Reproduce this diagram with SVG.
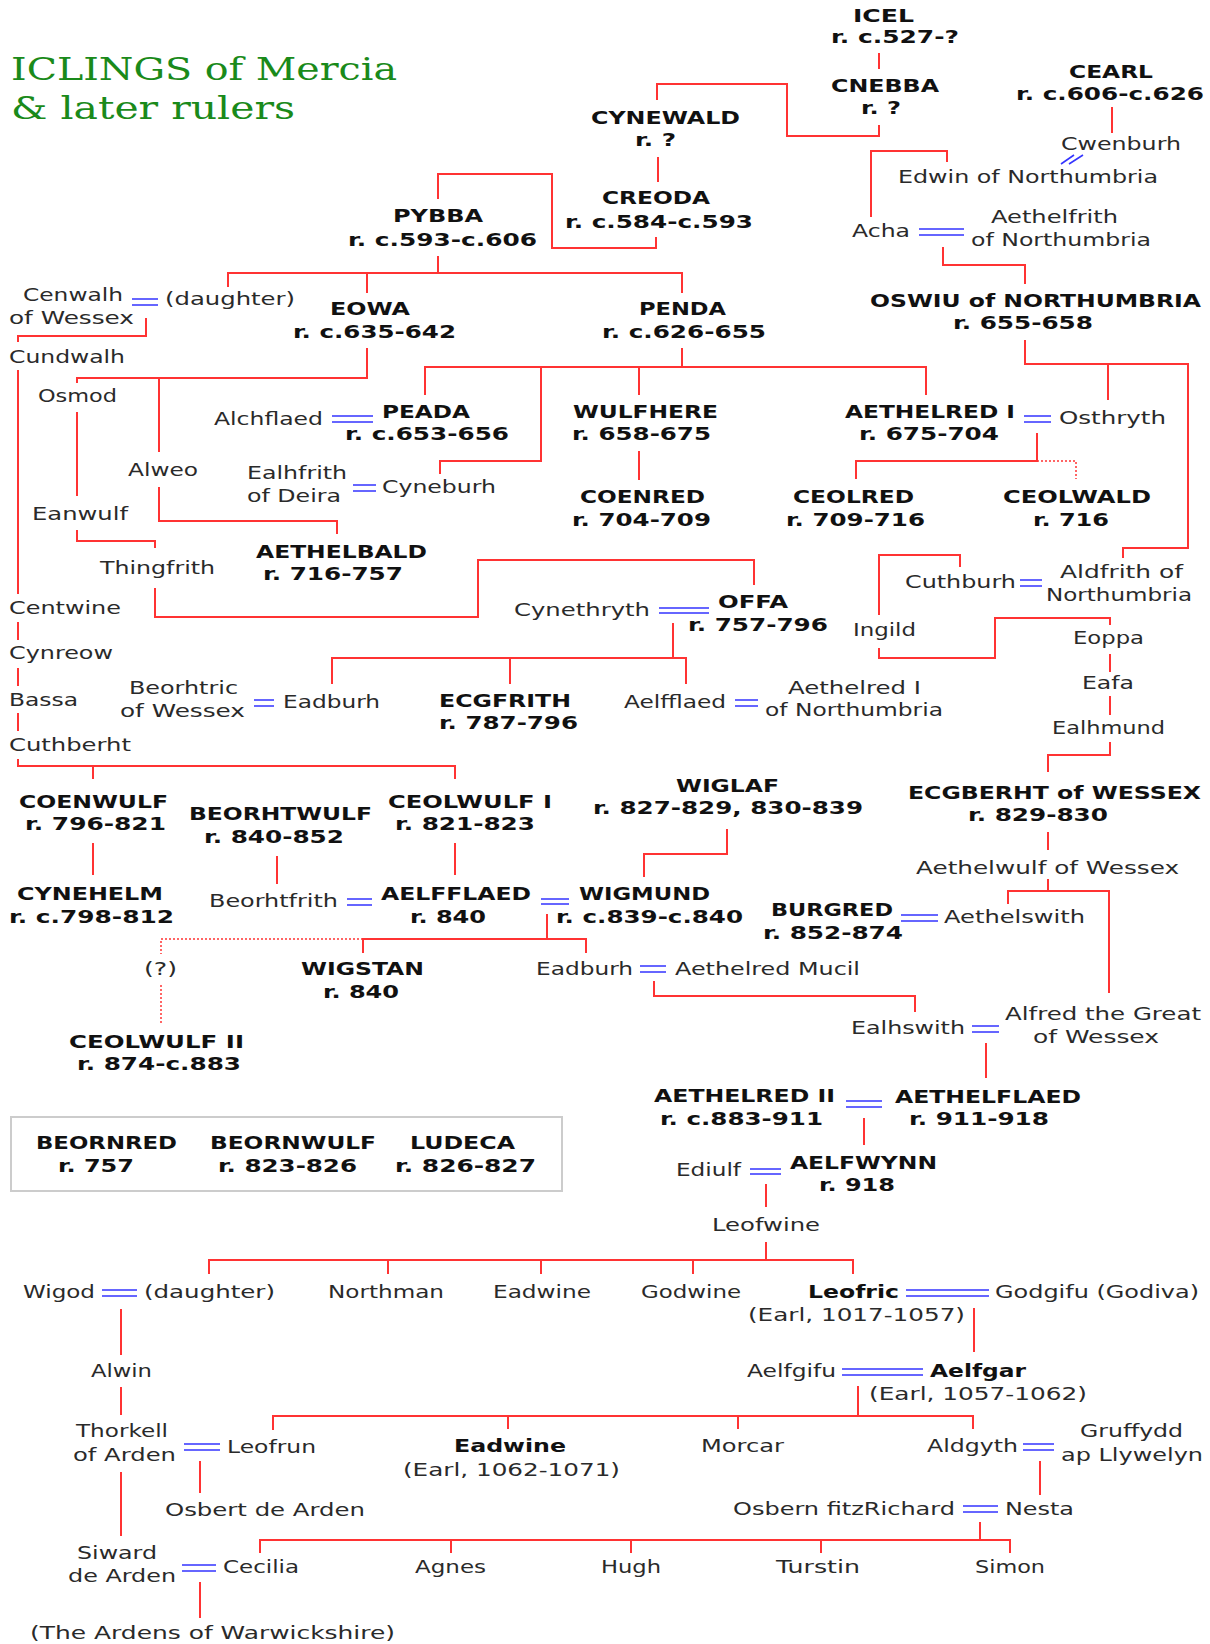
<svg xmlns="http://www.w3.org/2000/svg" width="1210" height="1644" viewBox="0 0 1210 1644">
<style>
text{font-family:"DejaVu Sans","Liberation Sans",sans-serif;font-size:17px}
.n{fill:#2a2a2a}
.b{fill:#111;font-weight:bold}
.t{font-family:"DejaVu Serif","Liberation Serif",serif;font-size:31px;fill:#1a8a1a}
.r{fill:none;stroke:#ff3333;stroke-width:2}
.d{fill:none;stroke:#ff3333;stroke-width:1.5;stroke-dasharray:2 2}
.m{fill:none;stroke:#3535ff;stroke-width:1.6}
.box{fill:none;stroke:#cccccc;stroke-width:2}
</style>
<rect width="1210" height="1644" fill="#fff"/>
<g id="title">
<text class="t" x="11" y="80" textLength="386" lengthAdjust="spacingAndGlyphs">ICLINGS of Mercia</text>
<text class="t" x="11" y="119" textLength="284" lengthAdjust="spacingAndGlyphs">&amp; later rulers</text>
</g>
<g id="connectors">
<path class="r" d="M879,53V69M879,125V136H787V84H657V100M658,157V182M656,237V248H552V174H438V199M438,256V273M228,287V273H682V293M367,273V293M146,318V336H18V342M18,370V594M18,622V640M18,668V686M18,713V731M367,348V378H77V383M159,378V452M77,412V496M77,530V541H155V548M155,588V617H478V560H754V585M159,487V521H337V534M682,348V367M425,395V367H926V395M639,367V395M541,367V461H440V474M639,451V480M1037,433V461H856V479M947,162V151H871V217M1112,107V133M943,247V265H1025V284M1025,340V364H1188V548H1123V558M1108,364V400M960,567V555H879V615M879,648V658H995V618H1110V625M1110,654V672M1110,696V715M1110,742V755H1048V772M1048,832V850M1048,879V891M1008,904V891H1109V993M673,623V658M332,684V658H686V684M510,658V684M18,759V766H455V779M93,766V779M93,843V875M277,856V884M455,843V875M727,829V854H644V877M547,914V939M363,953V939H586V953M654,981V996H915V1012M986,1043V1078M864,1118V1145M766,1184V1207M766,1242V1260M209,1274V1260H853V1274M388,1260V1274M541,1260V1274M693,1260V1274M121,1309V1355M121,1387V1415M121,1472V1536M200,1461V1493M974,1308V1352M858,1386V1416M273,1430V1416H973V1429M508,1416V1429M738,1416V1429M1040,1461V1495M980,1522V1540M260,1553V1540H1010V1553M451,1540V1553M631,1540V1553M821,1540V1553M200,1582V1618"/>
<path class="d" d="M1037,461H1076V479M363,939H161V954M161,985V1025"/>
<path class="m" d="M132,299H158M132,305H158M919,229H964M919,235H964M332,416H373M332,422H373M353,485H376M353,491H376M1024,416H1051M1024,422H1051M1020,580H1042M1020,586H1042M659,608H709M659,613H709M254,700H274M254,706H274M735,700H758M735,706H758M347,899H372M347,905H372M541,899H569M541,904H569M901,915H938M901,921H938M640,966H666M640,972H666M972,1026H999M972,1032H999M846,1101H882M846,1107H882M750,1169H781M750,1174H781M102,1290H137M102,1296H137M906,1290H989M906,1296H989M842,1369H923M842,1375H923M184,1444H220M184,1450H220M1023,1444H1054M1023,1450H1054M963,1506H998M963,1512H998M182,1565H216M182,1571H216M1061,164L1074,155M1069,164L1083,155"/>
</g>
<g id="n-icel"><text class="b" x="853" y="22" textLength="61" lengthAdjust="spacingAndGlyphs">ICEL</text><text class="b" x="831" y="43" textLength="128" lengthAdjust="spacingAndGlyphs">r. c.527-?</text></g>
<g id="n-cnebba"><text class="b" x="831" y="92" textLength="108" lengthAdjust="spacingAndGlyphs">CNEBBA</text><text class="b" x="861" y="114" textLength="40" lengthAdjust="spacingAndGlyphs">r. ?</text></g>
<g id="n-cynewald"><text class="b" x="591" y="124" textLength="149" lengthAdjust="spacingAndGlyphs">CYNEWALD</text><text class="b" x="635" y="146" textLength="41" lengthAdjust="spacingAndGlyphs">r. ?</text></g>
<g id="n-cearl"><text class="b" x="1069" y="78" textLength="84" lengthAdjust="spacingAndGlyphs">CEARL</text><text class="b" x="1016" y="100" textLength="188" lengthAdjust="spacingAndGlyphs">r. c.606-c.626</text></g>
<g id="n-cwenburh"><text class="n" x="1061" y="150" textLength="120" lengthAdjust="spacingAndGlyphs">Cwenburh</text></g>
<g id="n-edwin"><text class="n" x="898" y="183" textLength="260" lengthAdjust="spacingAndGlyphs">Edwin of Northumbria</text></g>
<g id="n-creoda"><text class="b" x="602" y="204" textLength="108" lengthAdjust="spacingAndGlyphs">CREODA</text><text class="b" x="565" y="228" textLength="188" lengthAdjust="spacingAndGlyphs">r. c.584-c.593</text></g>
<g id="n-pybba"><text class="b" x="393" y="222" textLength="90" lengthAdjust="spacingAndGlyphs">PYBBA</text><text class="b" x="348" y="246" textLength="189" lengthAdjust="spacingAndGlyphs">r. c.593-c.606</text></g>
<g id="n-acha"><text class="n" x="852" y="237" textLength="58" lengthAdjust="spacingAndGlyphs">Acha</text></g>
<g id="n-aethelfrith"><text class="n" x="991" y="223" textLength="127" lengthAdjust="spacingAndGlyphs">Aethelfrith</text><text class="n" x="971" y="246" textLength="180" lengthAdjust="spacingAndGlyphs">of Northumbria</text></g>
<g id="n-cenwalh"><text class="n" x="23" y="301" textLength="100" lengthAdjust="spacingAndGlyphs">Cenwalh</text><text class="n" x="9" y="324" textLength="125" lengthAdjust="spacingAndGlyphs">of Wessex</text></g>
<g id="n-daughter1"><text class="n" x="165" y="305" textLength="130" lengthAdjust="spacingAndGlyphs">(daughter)</text></g>
<g id="n-eowa"><text class="b" x="330" y="315" textLength="80" lengthAdjust="spacingAndGlyphs">EOWA</text><text class="b" x="293" y="338" textLength="163" lengthAdjust="spacingAndGlyphs">r. c.635-642</text></g>
<g id="n-penda"><text class="b" x="639" y="315" textLength="87" lengthAdjust="spacingAndGlyphs">PENDA</text><text class="b" x="602" y="338" textLength="164" lengthAdjust="spacingAndGlyphs">r. c.626-655</text></g>
<g id="n-oswiu"><text class="b" x="870" y="307" textLength="331" lengthAdjust="spacingAndGlyphs">OSWIU of NORTHUMBRIA</text><text class="b" x="953" y="329" textLength="140" lengthAdjust="spacingAndGlyphs">r. 655-658</text></g>
<g id="n-cundwalh"><text class="n" x="9" y="363" textLength="116" lengthAdjust="spacingAndGlyphs">Cundwalh</text></g>
<g id="n-osmod"><text class="n" x="38" y="402" textLength="79" lengthAdjust="spacingAndGlyphs">Osmod</text></g>
<g id="n-alchflaed"><text class="n" x="214" y="425" textLength="109" lengthAdjust="spacingAndGlyphs">Alchflaed</text></g>
<g id="n-peada"><text class="b" x="382" y="418" textLength="88" lengthAdjust="spacingAndGlyphs">PEADA</text><text class="b" x="345" y="440" textLength="164" lengthAdjust="spacingAndGlyphs">r. c.653-656</text></g>
<g id="n-wulfhere"><text class="b" x="573" y="418" textLength="145" lengthAdjust="spacingAndGlyphs">WULFHERE</text><text class="b" x="572" y="440" textLength="139" lengthAdjust="spacingAndGlyphs">r. 658-675</text></g>
<g id="n-aethelred1"><text class="b" x="845" y="418" textLength="170" lengthAdjust="spacingAndGlyphs">AETHELRED I</text><text class="b" x="859" y="440" textLength="140" lengthAdjust="spacingAndGlyphs">r. 675-704</text></g>
<g id="n-osthryth"><text class="n" x="1059" y="424" textLength="107" lengthAdjust="spacingAndGlyphs">Osthryth</text></g>
<g id="n-alweo"><text class="n" x="128" y="476" textLength="70" lengthAdjust="spacingAndGlyphs">Alweo</text></g>
<g id="n-ealhfrith"><text class="n" x="247" y="479" textLength="100" lengthAdjust="spacingAndGlyphs">Ealhfrith</text><text class="n" x="247" y="502" textLength="94" lengthAdjust="spacingAndGlyphs">of Deira</text></g>
<g id="n-cyneburh"><text class="n" x="382" y="493" textLength="114" lengthAdjust="spacingAndGlyphs">Cyneburh</text></g>
<g id="n-coenred"><text class="b" x="580" y="503" textLength="125" lengthAdjust="spacingAndGlyphs">COENRED</text><text class="b" x="572" y="526" textLength="139" lengthAdjust="spacingAndGlyphs">r. 704-709</text></g>
<g id="n-ceolred"><text class="b" x="793" y="503" textLength="121" lengthAdjust="spacingAndGlyphs">CEOLRED</text><text class="b" x="786" y="526" textLength="139" lengthAdjust="spacingAndGlyphs">r. 709-716</text></g>
<g id="n-ceolwald"><text class="b" x="1003" y="503" textLength="148" lengthAdjust="spacingAndGlyphs">CEOLWALD</text><text class="b" x="1033" y="526" textLength="76" lengthAdjust="spacingAndGlyphs">r. 716</text></g>
<g id="n-eanwulf"><text class="n" x="32" y="520" textLength="96" lengthAdjust="spacingAndGlyphs">Eanwulf</text></g>
<g id="n-aethelbald"><text class="b" x="256" y="558" textLength="171" lengthAdjust="spacingAndGlyphs">AETHELBALD</text><text class="b" x="263" y="580" textLength="140" lengthAdjust="spacingAndGlyphs">r. 716-757</text></g>
<g id="n-thingfrith"><text class="n" x="100" y="574" textLength="115" lengthAdjust="spacingAndGlyphs">Thingfrith</text></g>
<g id="n-cuthburh"><text class="n" x="905" y="588" textLength="111" lengthAdjust="spacingAndGlyphs">Cuthburh</text></g>
<g id="n-aldfrith"><text class="n" x="1060" y="578" textLength="123" lengthAdjust="spacingAndGlyphs">Aldfrith of</text><text class="n" x="1046" y="601" textLength="146" lengthAdjust="spacingAndGlyphs">Northumbria</text></g>
<g id="n-centwine"><text class="n" x="9" y="614" textLength="112" lengthAdjust="spacingAndGlyphs">Centwine</text></g>
<g id="n-cynethryth"><text class="n" x="514" y="616" textLength="136" lengthAdjust="spacingAndGlyphs">Cynethryth</text></g>
<g id="n-offa"><text class="b" x="718" y="608" textLength="70" lengthAdjust="spacingAndGlyphs">OFFA</text><text class="b" x="688" y="631" textLength="140" lengthAdjust="spacingAndGlyphs">r. 757-796</text></g>
<g id="n-ingild"><text class="n" x="853" y="636" textLength="63" lengthAdjust="spacingAndGlyphs">Ingild</text></g>
<g id="n-eoppa"><text class="n" x="1073" y="644" textLength="71" lengthAdjust="spacingAndGlyphs">Eoppa</text></g>
<g id="n-cynreow"><text class="n" x="9" y="659" textLength="104" lengthAdjust="spacingAndGlyphs">Cynreow</text></g>
<g id="n-eafa"><text class="n" x="1082" y="689" textLength="52" lengthAdjust="spacingAndGlyphs">Eafa</text></g>
<g id="n-beorhtric"><text class="n" x="129" y="694" textLength="109" lengthAdjust="spacingAndGlyphs">Beorhtric</text><text class="n" x="120" y="717" textLength="125" lengthAdjust="spacingAndGlyphs">of Wessex</text></g>
<g id="n-eadburh1"><text class="n" x="283" y="708" textLength="97" lengthAdjust="spacingAndGlyphs">Eadburh</text></g>
<g id="n-bassa"><text class="n" x="9" y="706" textLength="69" lengthAdjust="spacingAndGlyphs">Bassa</text></g>
<g id="n-ecgfrith"><text class="b" x="439" y="707" textLength="132" lengthAdjust="spacingAndGlyphs">ECGFRITH</text><text class="b" x="439" y="729" textLength="139" lengthAdjust="spacingAndGlyphs">r. 787-796</text></g>
<g id="n-aelfflaed1"><text class="n" x="624" y="708" textLength="102" lengthAdjust="spacingAndGlyphs">Aelfflaed</text></g>
<g id="n-aethelred-north"><text class="n" x="788" y="694" textLength="133" lengthAdjust="spacingAndGlyphs">Aethelred I</text><text class="n" x="765" y="716" textLength="178" lengthAdjust="spacingAndGlyphs">of Northumbria</text></g>
<g id="n-ealhmund"><text class="n" x="1052" y="734" textLength="113" lengthAdjust="spacingAndGlyphs">Ealhmund</text></g>
<g id="n-cuthberht"><text class="n" x="9" y="751" textLength="122" lengthAdjust="spacingAndGlyphs">Cuthberht</text></g>
<g id="n-wiglaf"><text class="b" x="676" y="792" textLength="103" lengthAdjust="spacingAndGlyphs">WIGLAF</text><text class="b" x="593" y="814" textLength="270" lengthAdjust="spacingAndGlyphs">r. 827-829, 830-839</text></g>
<g id="n-ecgberht"><text class="b" x="908" y="799" textLength="293" lengthAdjust="spacingAndGlyphs">ECGBERHT of WESSEX</text><text class="b" x="968" y="821" textLength="140" lengthAdjust="spacingAndGlyphs">r. 829-830</text></g>
<g id="n-coenwulf"><text class="b" x="19" y="808" textLength="149" lengthAdjust="spacingAndGlyphs">COENWULF</text><text class="b" x="25" y="830" textLength="141" lengthAdjust="spacingAndGlyphs">r. 796-821</text></g>
<g id="n-beorhtwulf"><text class="b" x="189" y="820" textLength="183" lengthAdjust="spacingAndGlyphs">BEORHTWULF</text><text class="b" x="204" y="843" textLength="140" lengthAdjust="spacingAndGlyphs">r. 840-852</text></g>
<g id="n-ceolwulf1"><text class="b" x="388" y="808" textLength="164" lengthAdjust="spacingAndGlyphs">CEOLWULF I</text><text class="b" x="395" y="830" textLength="140" lengthAdjust="spacingAndGlyphs">r. 821-823</text></g>
<g id="n-aethelwulf"><text class="n" x="916" y="874" textLength="263" lengthAdjust="spacingAndGlyphs">Aethelwulf of Wessex</text></g>
<g id="n-cynehelm"><text class="b" x="17" y="900" textLength="146" lengthAdjust="spacingAndGlyphs">CYNEHELM</text><text class="b" x="9" y="923" textLength="165" lengthAdjust="spacingAndGlyphs">r. c.798-812</text></g>
<g id="n-beorhtfrith"><text class="n" x="209" y="907" textLength="129" lengthAdjust="spacingAndGlyphs">Beorhtfrith</text></g>
<g id="n-aelfflaed2"><text class="b" x="381" y="900" textLength="150" lengthAdjust="spacingAndGlyphs">AELFFLAED</text><text class="b" x="410" y="923" textLength="76" lengthAdjust="spacingAndGlyphs">r. 840</text></g>
<g id="n-wigmund"><text class="b" x="579" y="900" textLength="131" lengthAdjust="spacingAndGlyphs">WIGMUND</text><text class="b" x="556" y="923" textLength="187" lengthAdjust="spacingAndGlyphs">r. c.839-c.840</text></g>
<g id="n-burgred"><text class="b" x="771" y="916" textLength="122" lengthAdjust="spacingAndGlyphs">BURGRED</text><text class="b" x="763" y="939" textLength="140" lengthAdjust="spacingAndGlyphs">r. 852-874</text></g>
<g id="n-aethelswith"><text class="n" x="944" y="923" textLength="141" lengthAdjust="spacingAndGlyphs">Aethelswith</text></g>
<g id="n-unknown"><text class="n" x="144" y="975" textLength="33" lengthAdjust="spacingAndGlyphs">(?)</text></g>
<g id="n-wigstan"><text class="b" x="301" y="975" textLength="123" lengthAdjust="spacingAndGlyphs">WIGSTAN</text><text class="b" x="323" y="998" textLength="76" lengthAdjust="spacingAndGlyphs">r. 840</text></g>
<g id="n-eadburh2"><text class="n" x="536" y="975" textLength="97" lengthAdjust="spacingAndGlyphs">Eadburh</text></g>
<g id="n-mucil"><text class="n" x="675" y="975" textLength="185" lengthAdjust="spacingAndGlyphs">Aethelred Mucil</text></g>
<g id="n-alfred"><text class="n" x="1005" y="1020" textLength="196" lengthAdjust="spacingAndGlyphs">Alfred the Great</text><text class="n" x="1033" y="1043" textLength="126" lengthAdjust="spacingAndGlyphs">of Wessex</text></g>
<g id="n-ealhswith"><text class="n" x="851" y="1034" textLength="114" lengthAdjust="spacingAndGlyphs">Ealhswith</text></g>
<g id="n-ceolwulf2"><text class="b" x="69" y="1048" textLength="175" lengthAdjust="spacingAndGlyphs">CEOLWULF II</text><text class="b" x="77" y="1070" textLength="164" lengthAdjust="spacingAndGlyphs">r. 874-c.883</text></g>
<g id="n-aethelred2"><text class="b" x="654" y="1102" textLength="181" lengthAdjust="spacingAndGlyphs">AETHELRED II</text><text class="b" x="660" y="1125" textLength="163" lengthAdjust="spacingAndGlyphs">r. c.883-911</text></g>
<g id="n-aethelflaed"><text class="b" x="895" y="1103" textLength="186" lengthAdjust="spacingAndGlyphs">AETHELFLAED</text><text class="b" x="909" y="1125" textLength="140" lengthAdjust="spacingAndGlyphs">r. 911-918</text></g>
<g id="n-box">
<rect class="box" x="11" y="1117" width="551" height="74"/>
<text class="b" x="36" y="1149" textLength="141" lengthAdjust="spacingAndGlyphs">BEORNRED</text><text class="b" x="58" y="1172" textLength="76" lengthAdjust="spacingAndGlyphs">r. 757</text>
<text class="b" x="210" y="1149" textLength="166" lengthAdjust="spacingAndGlyphs">BEORNWULF</text><text class="b" x="218" y="1172" textLength="139" lengthAdjust="spacingAndGlyphs">r. 823-826</text>
<text class="b" x="410" y="1149" textLength="105" lengthAdjust="spacingAndGlyphs">LUDECA</text><text class="b" x="395" y="1172" textLength="141" lengthAdjust="spacingAndGlyphs">r. 826-827</text>
</g>
<g id="n-ediulf"><text class="n" x="676" y="1176" textLength="65" lengthAdjust="spacingAndGlyphs">Ediulf</text></g>
<g id="n-aelfwynn"><text class="b" x="790" y="1169" textLength="147" lengthAdjust="spacingAndGlyphs">AELFWYNN</text><text class="b" x="819" y="1191" textLength="76" lengthAdjust="spacingAndGlyphs">r. 918</text></g>
<g id="n-leofwine"><text class="n" x="712" y="1231" textLength="108" lengthAdjust="spacingAndGlyphs">Leofwine</text></g>
<g id="n-wigod"><text class="n" x="23" y="1298" textLength="72" lengthAdjust="spacingAndGlyphs">Wigod</text></g>
<g id="n-daughter2"><text class="n" x="144" y="1298" textLength="131" lengthAdjust="spacingAndGlyphs">(daughter)</text></g>
<g id="n-northman"><text class="n" x="328" y="1298" textLength="116" lengthAdjust="spacingAndGlyphs">Northman</text></g>
<g id="n-eadwine1"><text class="n" x="493" y="1298" textLength="98" lengthAdjust="spacingAndGlyphs">Eadwine</text></g>
<g id="n-godwine"><text class="n" x="641" y="1298" textLength="100" lengthAdjust="spacingAndGlyphs">Godwine</text></g>
<g id="n-leofric"><text class="b" x="808" y="1298" textLength="91" lengthAdjust="spacingAndGlyphs">Leofric</text><text class="n" x="748" y="1321" textLength="217" lengthAdjust="spacingAndGlyphs">(Earl, 1017-1057)</text></g>
<g id="n-godgifu"><text class="n" x="995" y="1298" textLength="204" lengthAdjust="spacingAndGlyphs">Godgifu (Godiva)</text></g>
<g id="n-alwin"><text class="n" x="91" y="1377" textLength="61" lengthAdjust="spacingAndGlyphs">Alwin</text></g>
<g id="n-aelfgifu"><text class="n" x="747" y="1377" textLength="89" lengthAdjust="spacingAndGlyphs">Aelfgifu</text></g>
<g id="n-aelfgar"><text class="b" x="930" y="1377" textLength="96" lengthAdjust="spacingAndGlyphs">Aelfgar</text><text class="n" x="869" y="1400" textLength="218" lengthAdjust="spacingAndGlyphs">(Earl, 1057-1062)</text></g>
<g id="n-thorkell"><text class="n" x="76" y="1437" textLength="92" lengthAdjust="spacingAndGlyphs">Thorkell</text><text class="n" x="73" y="1461" textLength="103" lengthAdjust="spacingAndGlyphs">of Arden</text></g>
<g id="n-leofrun"><text class="n" x="227" y="1453" textLength="89" lengthAdjust="spacingAndGlyphs">Leofrun</text></g>
<g id="n-eadwine2"><text class="b" x="454" y="1452" textLength="112" lengthAdjust="spacingAndGlyphs">Eadwine</text><text class="n" x="403" y="1476" textLength="217" lengthAdjust="spacingAndGlyphs">(Earl, 1062-1071)</text></g>
<g id="n-morcar"><text class="n" x="701" y="1452" textLength="83" lengthAdjust="spacingAndGlyphs">Morcar</text></g>
<g id="n-aldgyth"><text class="n" x="927" y="1452" textLength="91" lengthAdjust="spacingAndGlyphs">Aldgyth</text></g>
<g id="n-gruffydd"><text class="n" x="1080" y="1437" textLength="103" lengthAdjust="spacingAndGlyphs">Gruffydd</text><text class="n" x="1061" y="1461" textLength="142" lengthAdjust="spacingAndGlyphs">ap Llywelyn</text></g>
<g id="n-osbert"><text class="n" x="165" y="1516" textLength="200" lengthAdjust="spacingAndGlyphs">Osbert de Arden</text></g>
<g id="n-osbern"><text class="n" x="733" y="1515" textLength="222" lengthAdjust="spacingAndGlyphs">Osbern fitzRichard</text></g>
<g id="n-nesta"><text class="n" x="1005" y="1515" textLength="69" lengthAdjust="spacingAndGlyphs">Nesta</text></g>
<g id="n-siward"><text class="n" x="77" y="1559" textLength="80" lengthAdjust="spacingAndGlyphs">Siward</text><text class="n" x="68" y="1582" textLength="108" lengthAdjust="spacingAndGlyphs">de Arden</text></g>
<g id="n-cecilia"><text class="n" x="223" y="1573" textLength="76" lengthAdjust="spacingAndGlyphs">Cecilia</text></g>
<g id="n-agnes"><text class="n" x="415" y="1573" textLength="71" lengthAdjust="spacingAndGlyphs">Agnes</text></g>
<g id="n-hugh"><text class="n" x="601" y="1573" textLength="60" lengthAdjust="spacingAndGlyphs">Hugh</text></g>
<g id="n-turstin"><text class="n" x="776" y="1573" textLength="84" lengthAdjust="spacingAndGlyphs">Turstin</text></g>
<g id="n-simon"><text class="n" x="975" y="1573" textLength="70" lengthAdjust="spacingAndGlyphs">Simon</text></g>
<g id="n-ardens"><text class="n" x="30" y="1639" textLength="365" lengthAdjust="spacingAndGlyphs">(The Ardens of Warwickshire)</text></g>
</svg>
